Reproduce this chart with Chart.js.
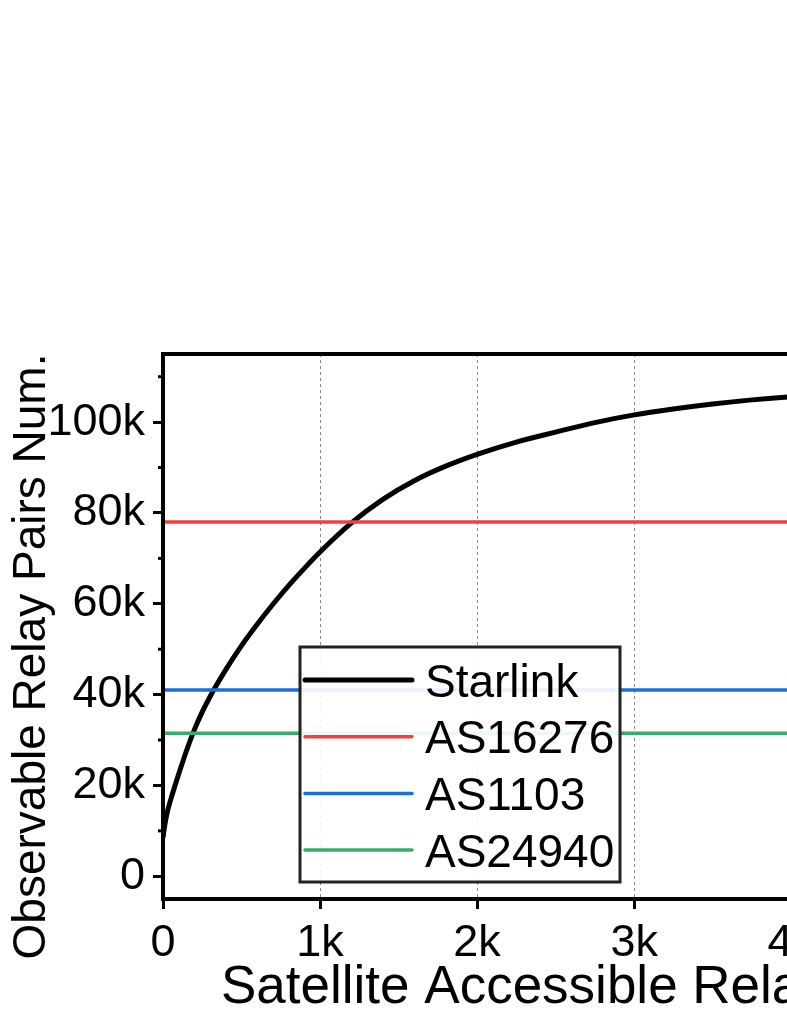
<!DOCTYPE html>
<html>
<head>
<meta charset="utf-8">
<script src="https://cdn.jsdelivr.net/npm/chart.js@4/dist/chart.umd.min.js"></script>
<style>
html, body { margin: 0; padding: 0; background: #fff; overflow: hidden; }
#wrap { position: absolute; left: 0; top: 0; }
</style>
</head>
<body>
<div id="wrap"><canvas id="relayChart" width="980" height="1019"></canvas></div>
<script>
// number of satellite accessible relays (x)
const relayNum = [0, 10, 25, 50, 75, 100, 150, 200, 250, 300, 400, 500, 600, 700, 800, 900, 1000,
  1200, 1400, 1600, 1800, 2000, 2250, 2500, 2750, 3000, 3250, 3500, 3750, 4000, 4500, 5000];

// observable relay pairs for Starlink
const starlinkPairs = [8500, 11000, 13800, 17000, 19800, 22500, 27700, 32300, 36200, 39600, 45500, 50800,
  55500, 59900, 64000, 67800, 71400, 77800, 83000, 87100, 90300, 92900, 95600, 97800, 99900, 101600,
  102900, 104000, 104900, 105600, 106600, 107200];

// flat reference values for the terrestrial ASes
const asNames = ['AS16276', 'AS1103', 'AS24940'];
const asPairs = [78000, 41000, 31500];
const asColors = ['#F14040', '#1A6FDF', '#37AD6B'];

// axis ranges and ticks
const xRange = [0, 5000];
const yRange = [-5000, 115000];
const xTicks = [0, 1000, 2000, 3000, 4000, 5000];
const yTicks = [0, 20000, 40000, 60000, 80000, 100000];
const yMinorTicks = [10000, 30000, 50000, 70000, 90000, 110000];

const fontFamily = '"Liberation Sans", Arial, sans-serif';

function kLabel(v) {
  return v === 0 ? '0' : (v / 1000) + 'k';
}

const datasets = [{
  label: 'Starlink',
  data: relayNum.map((x, i) => ({x: x, y: starlinkPairs[i]})),
  borderColor: '#000',
  borderWidth: 5,
  pointRadius: 0,
  cubicInterpolationMode: 'monotone',
  order: 1
}];
asNames.forEach((name, i) => {
  datasets.push({
    label: name,
    data: [{x: xRange[0], y: asPairs[i]}, {x: xRange[1], y: asPairs[i]}],
    borderColor: asColors[i],
    borderWidth: 3.5,
    pointRadius: 0,
    order: 0
  });
});

// frame, minor ticks, axis titles and the boxed legend
const decorations = {
  id: 'decorations',
  afterDatasetsDraw(chart) {
    const ctx = chart.ctx;
    const a = chart.chartArea;
    const yScale = chart.scales.y;

    ctx.save();
    // plot frame
    ctx.strokeStyle = '#000';
    ctx.lineWidth = 4;
    ctx.strokeRect(a.left, a.top, a.right - a.left, a.bottom - a.top);

    // minor ticks on y
    ctx.lineWidth = 3;
    yMinorTicks.forEach(v => {
      const py = yScale.getPixelForValue(v);
      ctx.beginPath();
      ctx.moveTo(a.left - 5, py);
      ctx.lineTo(a.left, py);
      ctx.stroke();
    });

    // axis titles
    ctx.fillStyle = '#000';
    ctx.font = '46px ' + fontFamily;
    ctx.textAlign = 'center';
    ctx.textBaseline = 'alphabetic';
    ctx.save();
    ctx.translate(a.left - 118, (a.top + a.bottom) / 2 + 30);
    ctx.rotate(-Math.PI / 2);
    ctx.fillText('Observable Relay Pairs Num.', 0, 0);
    ctx.restore();

    ctx.font = '53px ' + fontFamily;
    ctx.textAlign = 'left';
    ctx.fillText('Satellite Accessible Relay Num.', a.left + 58, a.bottom + 104);

    // legend box
    const bx = a.left + 137, by = a.top + 293, bw = 320, bh = 235;
    ctx.fillStyle = 'rgba(255,255,255,0.9)';
    ctx.fillRect(bx, by, bw, bh);
    ctx.strokeStyle = '#222';
    ctx.lineWidth = 3;
    ctx.strokeRect(bx, by, bw, bh);

    ctx.font = '46px ' + fontFamily;
    chart.data.datasets.forEach((ds, row) => {
      const cy = by + 33 + row * 56.7;
      ctx.strokeStyle = ds.borderColor;
      ctx.lineWidth = ds.borderWidth;
      ctx.lineCap = 'round';
      ctx.beginPath();
      ctx.moveTo(bx + 5, cy);
      ctx.lineTo(bx + 112, cy);
      ctx.stroke();
      ctx.fillStyle = '#000';
      ctx.fillText(ds.label, bx + 125, cy + 16.5);
    });
    ctx.restore();
  }
};

const ctx = document.getElementById('relayChart');

const relayChart = new Chart(ctx, {
  type: 'line',
  data: {datasets: datasets},
  options: {
    responsive: false,
    animation: false,
    devicePixelRatio: 1,
    layout: {padding: {top: 354, right: 20, bottom: 0, left: 0}},
    plugins: {legend: {display: false}, tooltip: {enabled: false}},
    scales: {
      x: {
        type: 'linear',
        min: xRange[0],
        max: xRange[1],
        afterBuildTicks: s => { s.ticks = xTicks.map(v => ({value: v})); },
        afterFit: s => { s.height = 120; },
        border: {display: false, dash: [3, 3]},
        grid: {
          drawOnChartArea: true,
          color: c => (c.tick && c.tick.value === 0) ? 'rgba(0,0,0,0)' : '#888',
          lineWidth: 1,
          tickLength: 10,
          tickWidth: 3,
          tickColor: '#000'
        },
        ticks: {
          color: '#000',
          padding: 8,
          maxRotation: 0,
          font: {family: fontFamily, size: 45},
          callback: v => kLabel(v)
        }
      },
      y: {
        type: 'linear',
        min: yRange[0],
        max: yRange[1],
        afterBuildTicks: s => { s.ticks = yTicks.map(v => ({value: v})); },
        afterFit: s => { s.width = 163; },
        border: {display: false},
        grid: {
          drawOnChartArea: false,
          tickLength: 10,
          tickWidth: 3,
          tickColor: '#000'
        },
        ticks: {
          color: '#000',
          padding: 8,
          font: {family: fontFamily, size: 45},
          callback: v => kLabel(v)
        }
      }
    }
  },
  plugins: [decorations]
});
</script>
</body>
</html>
